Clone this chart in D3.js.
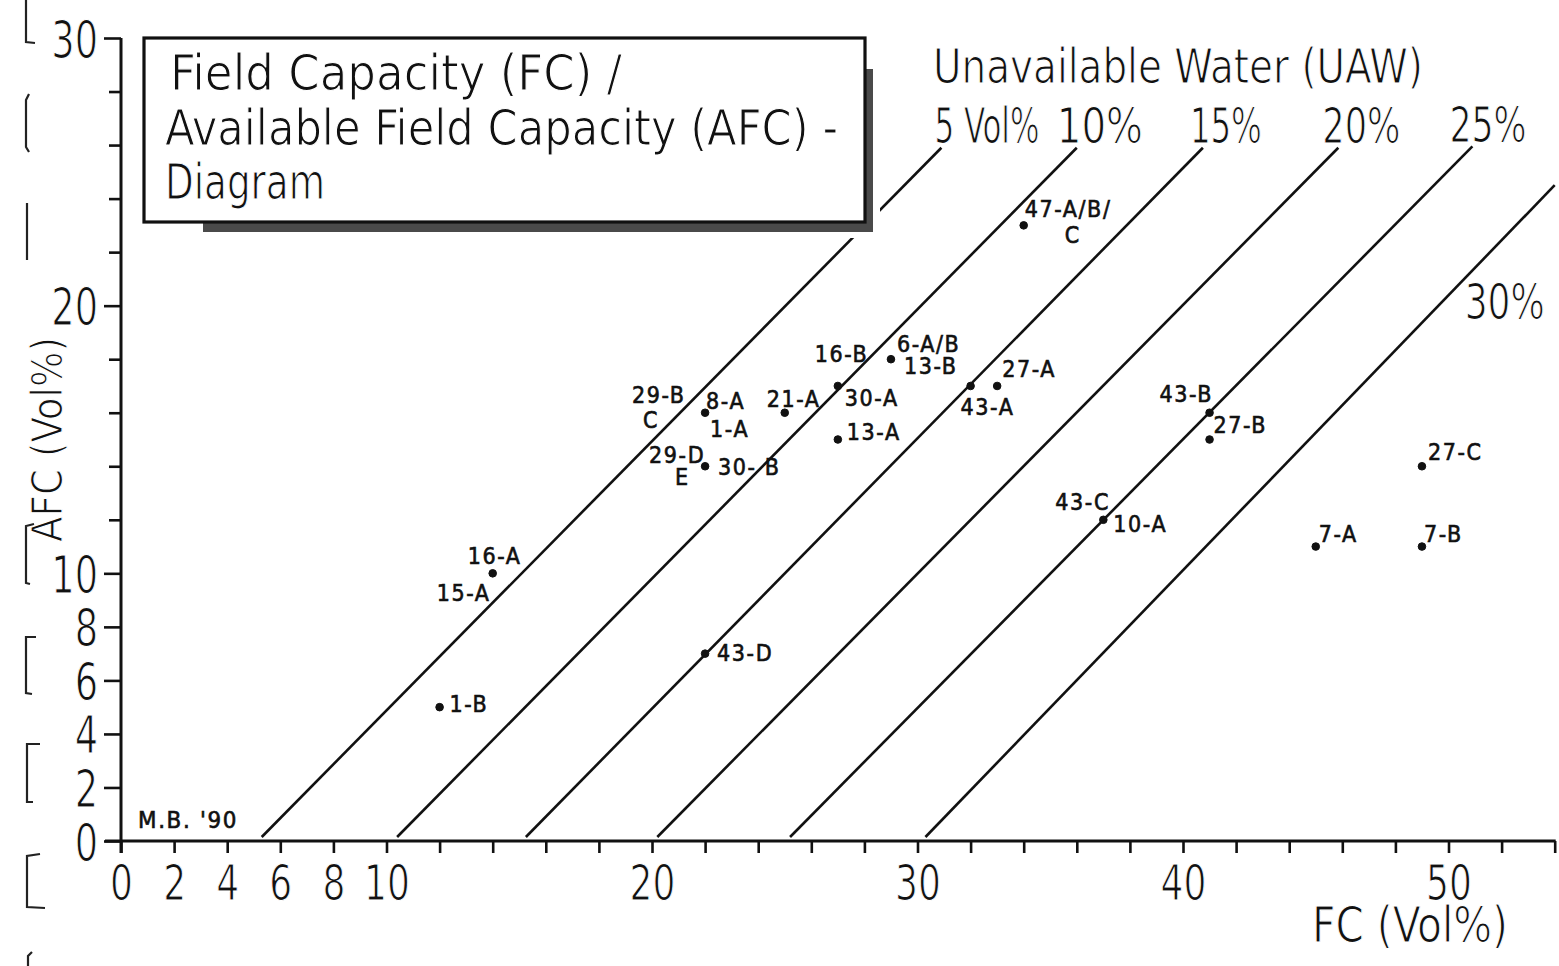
<!DOCTYPE html>
<html>
<head>
<meta charset="utf-8">
<script src="https://d3js.org/d3.v7.min.js"></script>
<style>
  body { margin: 0; background: #fff; }
  svg { display: block; }
  .big { font-family: "Liberation Sans Narrow", "DejaVu Sans Condensed", sans-serif; fill: #111; stroke: #fff; stroke-width: 1.1px; }
  .lbl { font-family: "DejaVu Sans Condensed", "DejaVu Sans", sans-serif; font-size: 23px; letter-spacing: 1.6px; fill: #111; stroke: #111; stroke-width: 0.6px; }
</style>
</head>
<body>
<svg id="chart"></svg>
<script>
// --- data (FC and AFC in Vol%) ---
var sampleFC  = [12, 14, 22, 22, 25, 27, 27, 29, 32, 33, 34, 41, 41, 37, 49, 45, 49, 22];
var sampleAFC = [ 5, 10, 16, 14, 16, 17, 15, 18, 17, 17, 23, 16, 15, 12, 14, 11, 11,  7];
var sampleNames = [
  ["1-B"], ["16-A", "15-A"], ["29-B", "C", "8-A", "1-A"], ["29-D", "E", "30- B"], ["21-A"],
  ["16-B", "30-A"], ["13-A"], ["6-A/B", "13-B"], ["43-A"], ["27-A"], ["47-A/B/", "C"],
  ["43-B"], ["27-B"], ["43-C", "10-A"], ["27-C"], ["7-A"], ["7-B"], ["43-D"]
];

// unavailable water iso-lines (AFC = FC - UAW), ends as drawn
var uawValues   = [5, 10, 15, 20, 25, 30];
var uawLabels   = ["5 Vol%", "10%", "15%", "20%", "25%", "30%"];
var uawStartFC  = [5.3, 10.4, 15.25, 20.2, 25.2, 30.3];
var uawStartAFC = [0.15, 0.15, 0.15, 0.15, 0.15, 0.15];
var uawEndFC    = [30.9, 36.0, 40.75, 45.85, 50.9, 54.0];
var uawEndAFC   = [25.9, 25.9, 25.9, 25.9, 25.95, 24.5];

var xTicks = d3.range(0, 55, 2);
var xTickLabels = [0, 2, 4, 6, 8, 10, 20, 30, 40, 50];
var yTicks = d3.range(0, 31, 2);
var yTickLabels = [0, 2, 4, 6, 8, 10, 20, 30];

// --- layout ---
var width = 1559, height = 966;
// label offsets (px) from each sample point
var nameOffsets = [
  [[10, 5]],
  [[-25, -9], [-56, 28]],
  [[-73, -10], [-62, 15], [1, -4], [5, 24]],
  [[-56, -3], [-30, 19], [13, 9]],
  [[-18, -6]],
  [[-23, -24], [7, 20]],
  [[9, 0]],
  [[6, -7], [13, 15]],
  [[-10, 29]],
  [[5, -9]],
  [[1, -8], [41, 18]],
  [[-50, -11]],
  [[4, -7]],
  [[-48, -10], [10, 12]],
  [[6, -6]],
  [[3, -5]],
  [[2, -5]],
  [[12, 7]]
];
// iso-line label offsets from line top, and label widths
var uawLabelOffsets = [[-7, -5], [-20, -5], [-13, -5], [-16, -5], [-23, -4], [-90, 134]];
var uawLabelWidths = [105, 86, 72, 78, 77, 80];
var sx = 0.8; // horizontal squeeze of the stencil lettering

var svg = d3.select("#chart").attr("width", width).attr("height", height);

var x = d3.scaleLinear().domain([0, 54]).range([121, 121 + 54 * 26.55]);
var y = d3.scaleLinear().domain([0, 30]).range([841, 38]);

function txt(g, s, px, py, size, len) {
  var t = g.append("text").attr("class", "big").attr("x", px).attr("y", py)
    .attr("font-size", size).text(s);
  if (len) t.attr("textLength", len).attr("lengthAdjust", "spacingAndGlyphs");
  return t;
}

// scan marks along the left page edge
var edge = svg.append("g").attr("fill", "none").attr("stroke", "#222").attr("stroke-width", 2.2);
[
  "M26,0 L26,42 L35,43", "M29,94 L26,100 L26,147 L29,152", "M27,203 L27,260",
  "M34,524 L26,526 L26,583 L30,584", "M36,637 L26,637 L26,693 L32,694",
  "M40,744 L27,744 L27,802 L33,802", "M40,854 L27,856 L27,907 L45,908", "M28,966 L28,956 L32,952"
].forEach(function (p) { edge.append("path").attr("d", p); });

// iso-lines
svg.append("g").selectAll("line").data(uawValues).join("line")
  .attr("x1", function (d, i) { return x(uawStartFC[i]); })
  .attr("y1", function (d, i) { return y(uawStartAFC[i]); })
  .attr("x2", function (d, i) { return x(uawEndFC[i]); })
  .attr("y2", function (d, i) { return y(uawEndAFC[i]); })
  .attr("stroke", "#111").attr("stroke-width", 2.6);

// x axis
var xAxis = d3.axisBottom(x).tickValues(xTicks).tickSize(12).tickSizeOuter(0)
  .tickFormat(function (d) { return xTickLabels.indexOf(d) >= 0 ? d : ""; });
var gx = svg.append("g").attr("transform", "translate(0," + y(0) + ")").call(xAxis)
  .attr("font-family", null).attr("font-size", null);
gx.select(".domain").remove();
gx.append("line").attr("x1", 105).attr("x2", x(54) + 1).attr("stroke", "#111").attr("stroke-width", 3);
gx.selectAll(".tick line").attr("stroke", "#111").attr("stroke-width", 2.6);
gx.selectAll(".tick text").attr("class", "big").attr("font-size", 50)
  .attr("y", 59).attr("dy", null).attr("transform", "scale(" + sx + ",1)");

// y axis
var yAxis = d3.axisLeft(y).tickValues(yTicks).tickSize(12).tickSizeOuter(0)
  .tickFormat(function (d) { return yTickLabels.indexOf(d) >= 0 ? d : ""; });
var gy = svg.append("g").attr("transform", "translate(" + x(0) + ",0)").call(yAxis)
  .attr("font-family", null).attr("font-size", null);
gy.select(".domain").remove();
gy.append("line").attr("y1", y(30)).attr("y2", y(0) + 12).attr("stroke", "#111").attr("stroke-width", 3);
gy.selectAll(".tick line").attr("stroke", "#111").attr("stroke-width", 2.6)
  .attr("x2", function (d) { return yTickLabels.indexOf(d) >= 0 ? -17 : -12; });
gy.selectAll(".tick text").attr("class", "big").attr("font-size", 51)
  .attr("x", -23 / sx).attr("dy", 19).attr("transform", "scale(" + sx + ",1)");

// axis titles
txt(svg, "FC (Vol%)", 1312, 942, 49, 196);
txt(svg, "AFC (Vol%)", 0, 0, 42, 205).attr("transform", "translate(62,542) rotate(-90)");
svg.append("text").attr("class", "lbl").attr("x", 138).attr("y", 828)
  .attr("textLength", 100).attr("lengthAdjust", "spacingAndGlyphs").text("M.B. '90");

// title box with shadow
var box = svg.append("g");
box.append("rect").attr("x", 138).attr("y", 33).attr("width", 742).attr("height", 205).attr("fill", "#fff");
box.append("rect").attr("x", 203).attr("y", 221).attr("width", 670).attr("height", 11).attr("fill", "#4a4a4a");
box.append("rect").attr("x", 864).attr("y", 69).attr("width", 9).attr("height", 163).attr("fill", "#4a4a4a");
box.append("rect").attr("x", 144).attr("y", 38).attr("width", 721).attr("height", 184)
  .attr("fill", "#fff").attr("stroke", "#111").attr("stroke-width", 3.2);
txt(box, "Field  Capacity (FC) /", 170, 90, 50, 452);
txt(box, "Available Field Capacity (AFC) -", 165, 145, 50, 673);
txt(box, "Diagram", 165, 199, 50, 160);

// iso-line captions
txt(svg, "Unavailable Water (UAW)", 933, 83, 48, 490);
uawLabels.forEach(function (s, i) {
  txt(svg, s, x(uawEndFC[i]) + uawLabelOffsets[i][0], y(uawEndAFC[i]) + uawLabelOffsets[i][1], 50, uawLabelWidths[i]);
});

// sample points and their names
var pts = svg.append("g");
pts.selectAll("circle").data(sampleFC).join("circle")
  .attr("cx", function (d) { return x(d); })
  .attr("cy", function (d, i) { return y(sampleAFC[i]); })
  .attr("r", 3.8).attr("fill", "#111").attr("stroke", "#111").attr("stroke-width", 1);

sampleNames.forEach(function (names, i) {
  names.forEach(function (s, j) {
    pts.append("text").attr("class", "lbl")
      .attr("x", x(sampleFC[i]) + nameOffsets[i][j][0])
      .attr("y", y(sampleAFC[i]) + nameOffsets[i][j][1])
      .text(s);
  });
});
</script>
</body>
</html>
